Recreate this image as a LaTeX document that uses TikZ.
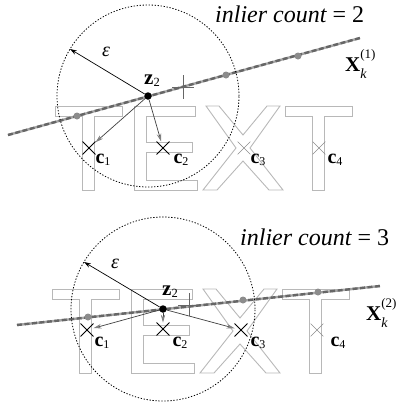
\documentclass[tikz,border=0pt]{standalone}
\usepackage{fontspec}
\setmainfont{Liberation Serif}
\usetikzlibrary{arrows.meta,shapes.misc}
\newcommand\cl[1]{\textbf{c}\raisebox{-0.1em}{\fontsize{12bp}{12bp}\selectfont #1}}
\newcommand\zl{\textbf{z}\raisebox{-0.1em}{\fontsize{12.5bp}{12bp}\selectfont 2}}
\newcommand\xl[1]{\textbf{X}\rlap{\raisebox{0.6em}{\fontsize{13bp}{13bp}\selectfont(#1)}}\raisebox{-0.33em}{\fontsize{14bp}{14bp}\selectfont\itshape k}\hspace{12bp}}
\tikzset{
 wm/.style={draw=black!28, line width=0.9bp},
 crs/.style={cross out, draw=black, line width=0.9bp, minimum size=12bp, inner sep=0pt},
 crsg/.style={cross out, draw=black!45, line width=0.6bp, minimum size=12bp, inner sep=0pt},
 gdot/.style={circle, fill=black!45, inner sep=0pt, minimum size=7bp},
 zdot/.style={circle, fill=black, inner sep=0pt, minimum size=7.5bp},
 rad/.style={draw=black, line width=0.7bp, -{Stealth[length=7bp,width=4.5bp]}},
 toc/.style={draw=black!75, line width=0.7bp, -{Stealth[length=8bp,width=4.5bp,color=black!50]}},
 ring/.style={draw=black, line width=0.8bp, dash pattern=on 1.3bp off 1.7bp},
 xline/.style={line width=2.4bp, draw=black!35},
 xdash/.style={line width=2.4bp, draw=black!60, dash pattern=on 5bp off 2.5bp},
 tickmark/.style={draw=black!60, line width=0.7bp},
 lbl/.style={inner sep=0pt, font=\fontsize{20bp}{22bp}\selectfont},
 zlbl/.style={inner sep=0pt, font=\fontsize{21bp}{22bp}\selectfont},
 xlbl/.style={inner sep=0pt, font=\fontsize{21bp}{22bp}\selectfont, anchor=west},
 cnt/.style={inner sep=0pt, font=\fontsize{24bp}{28bp}\selectfont, anchor=base west},
 wmark/.pic={
  \draw[wm] (55,106) -- (122,106) -- (122,116) -- (94,116) -- (94,190) -- (82,190) -- (82,116) -- (55,116) -- cycle;
  \draw[wm] (134,106) -- (195,106) -- (195,116) -- (146,116) -- (146,142) -- (192,142) -- (192,152) -- (146,152) -- (146,180) -- (197,180) -- (197,190) -- (134,190) -- cycle;
  \draw[wm] (206,106) -- (219,106) -- (243,135) -- (267,106) -- (280,106) -- (250,148) -- (283,190) -- (269,190) -- (243,161) -- (217,190) -- (203,190) -- (236,148) -- cycle;
  \draw[wm] (285,106) -- (352,106) -- (352,116) -- (324,116) -- (324,190) -- (312,190) -- (312,116) -- (285,116) -- cycle;
 }
}
\begin{document}
\begin{tikzpicture}[x=1bp,y=-1bp]
\useasboundingbox (0,0) rectangle (400,403);
% watermark
\pic at (0,0) {wmark};
\pic at (-3,183) {wmark};

% ===== top panel =====
\coordinate (a1) at (8,135);
\coordinate (b1) at (360,38);
\draw[xline] (a1) -- (b1);
\draw[xdash] (a1) -- (b1);
\node[gdot] (d11) at (77,116) {};
\node[gdot] (d12) at (226,75) {};
\node[gdot] (d13) at (298,56) {};
\node[zdot] (z1) at (148,96) {};
\draw[ring] (z1.center) circle[radius=91bp];
\coordinate (e1) at (70,49);
\draw[rad] (z1) -- (e1);
\node (eps1) at (106,52) {\fontsize{20bp}{20bp}\selectfont\itshape ε};
\node[zlbl] (zl1) at (152,81) {\zl};
\draw[tickmark] (183,75) -- (183,99) (172,87) -- (194,87);
\node[crs] (c11) at (89,148) {};
\node[crs] (c12) at (163,148) {};
\node[crsg] (c13) at (244,148) {};
\node[crsg] (c14) at (319,148) {};
\draw[toc] (z1) -- (c11);
\draw[toc] (z1) -- (c12);
\node[lbl] (l11) at (103,160) {\cl{1}};
\node[lbl] (l12) at (181,160) {\cl{2}};
\node[lbl] (l13) at (258,160) {\cl{3}};
\node[lbl] (l14) at (335,160) {\cl{4}};
\node[xlbl] (x1) at (345,64) {\xl{1}};
\node[cnt] (n1) at (215,22) {{\itshape inlier count} = 2};

% ===== bottom panel =====
\coordinate (a2) at (17,325);
\coordinate (b2) at (380,286);
\draw[xline] (a2) -- (b2);
\draw[xdash] (a2) -- (b2);
\node[gdot] (d21) at (88,317) {};
\node[gdot] (d22) at (243,300) {};
\node[gdot] (d23) at (318,292) {};
\node[zdot] (z2) at (163,309) {};
\draw[ring] (z2.center) circle[radius=92bp];
\coordinate (e2) at (84,262);
\draw[rad] (z2) -- (e2);
\node (eps2) at (115,264) {\fontsize{20bp}{20bp}\selectfont\itshape ε};
\node[zlbl] (zl2) at (170,292) {\zl};
\draw[tickmark] (189,293) -- (189,316) (178,305) -- (200,305);
\node[crs] (c21) at (87,330) {};
\node[crs] (c22) at (163,329) {};
\node[crs] (c23) at (241,330) {};
\node[crsg] (c24) at (317,330) {};
\draw[toc] (z2) -- (c21);
\draw[toc] (z2) -- (c22);
\draw[toc] (z2) -- (c23);
\node[lbl] (l21) at (102,343) {\cl{1}};
\node[lbl] (l22) at (180,343) {\cl{2}};
\node[lbl] (l23) at (258,343) {\cl{3}};
\node[lbl] (l24) at (338,343) {\cl{4}};
\node[xlbl] (x2) at (366,313) {\xl{2}};
\node[cnt] (n2) at (240,245) {{\itshape inlier count} = 3};
\end{tikzpicture}
\end{document}
